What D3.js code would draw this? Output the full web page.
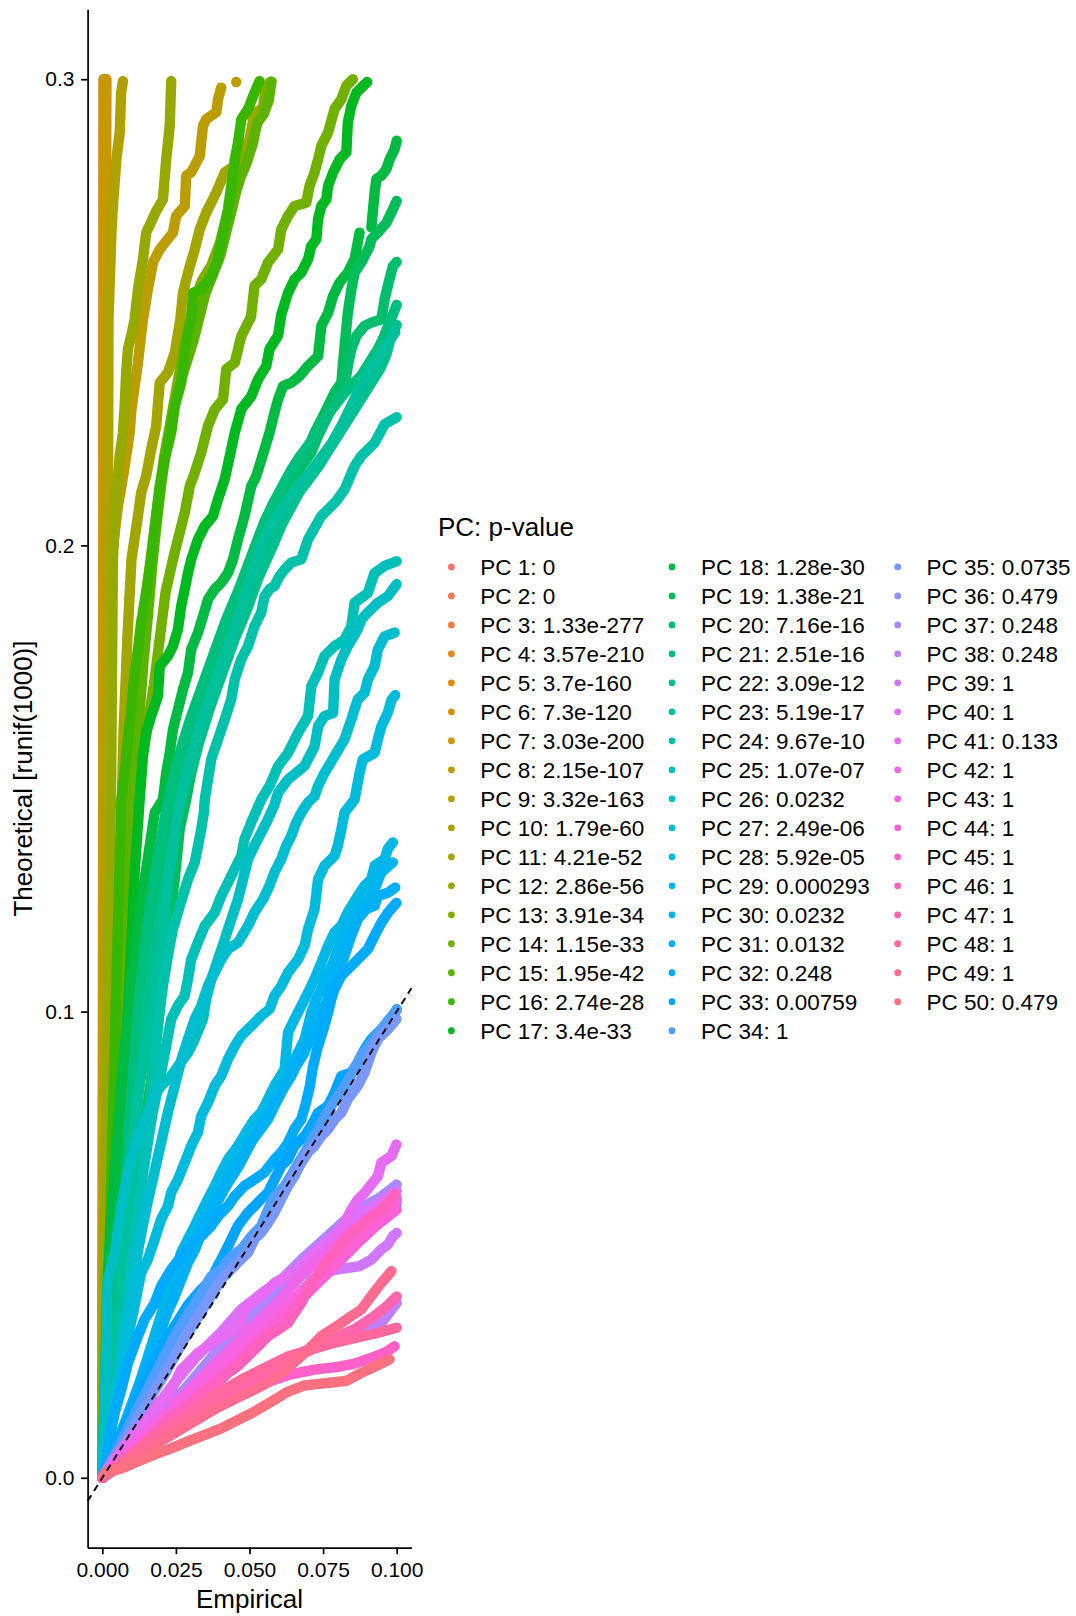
<!DOCTYPE html>
<html>
<head>
<meta charset="utf-8">
<script src="https://cdn.jsdelivr.net/npm/d3@7"></script>
<style>
  body { margin: 0; background: #ffffff; }
  svg { display: block; }
  text { font-family: "Liberation Sans", Arial, Helvetica, sans-serif; fill: #000; }
</style>
</head>
<body>
<svg id="chart" width="1076" height="1616"></svg>
<script>
// JackStraw QQ curves: empirical p-value quantiles (x) against theoretical runif(1000) quantiles (y)

const pValueLabels = [
  "0", "0", "1.33e-277", "3.57e-210", "3.7e-160", "7.3e-120", "3.03e-200", "2.15e-107", "3.32e-163", "1.79e-60",
  "4.21e-52", "2.86e-56", "3.91e-34", "1.15e-33", "1.95e-42", "2.74e-28", "3.4e-33", "1.28e-30", "1.38e-21", "7.16e-16",
  "2.51e-16", "3.09e-12", "5.19e-17", "9.67e-10", "1.07e-07", "0.0232", "2.49e-06", "5.92e-05", "0.000293", "0.0232",
  "0.0132", "0.248", "0.00759", "1", "0.0735", "0.479", "0.248", "0.248", "1", "1",
  "0.133", "1", "1", "1", "1", "1", "1", "1", "1", "0.479"
];

const xTicks = [0, 0.025, 0.05, 0.075, 0.1];
const yTicks = [0, 0.1, 0.2, 0.3];

// One list of [empirical, theoretical] pairs per PC (PC 1 first); null breaks a curve at a gap.
const curves = [
  /* PC 1 */ [[0.0003, 0], [0.0005, 0.3]],
  /* PC 2 */ [[0.0003, 0], [0.0005, 0.3]],
  /* PC 3 */ [[0.0003, 0], [0.0004, 0.12], [0.0006, 0.3]],
  /* PC 4 */ [[0, 0], [0.0004, 0.08], [0.0009, 0.2], [0.0013, 0.28], [0.0014, 0.3]],
  /* PC 5 */ [[0, 0], [0.0005, 0.1], [0.0009, 0.22], [0.0011, 0.3]],
  /* PC 6 */ [[0, 0], [0.0006, 0.1], [0.001, 0.2], [0.0012, 0.3]],
  /* PC 7 */ [[0, 0], [0.0003, 0.1], [0.0006, 0.2], [0.0008, 0.3]],
  /* PC 8 */ [[0, 0], [0.0002, 0.1], [0.0004, 0.2], [0.0005, 0.3]],
  /* PC 9 */ [[0, 0], [0.0006, 0.05], [0.0015, 0.1], [0.0025, 0.15], [0.0031, 0.197], [0.0042, 0.2027], [0.0053, 0.2084],
    [0.0065, 0.2127], [0.0076, 0.217], [0.0093, 0.2242], [0.0099, 0.2292], [0.011, 0.2342], [0.0121, 0.2392], [0.0138, 0.2485],
    [0.0155, 0.255], [0.0172, 0.2607], [0.0195, 0.2635], [0.024, 0.2671], [0.0251, 0.2707], [0.028, 0.2728], [0.0285, 0.2793],
    [0.0302, 0.28], [0.0331, 0.2835], [0.0342, 0.29], [0.0353, 0.2914], [0.0387, 0.2929], [0.0393, 0.2957], [0.0404, 0.2982],
    null, [0.0455, 0.2994], [0.0455, 0.2994]],
  /* PC 10 */ [[0, 0], [0.0006, 0.05], [0.0011, 0.1], [0.0015, 0.15], [0.0019, 0.2], [0.0021, 0.2486], [0.0031, 0.2671],
    [0.0036, 0.2729], [0.0048, 0.2829], [0.0059, 0.2886], [0.0064, 0.2971], [0.007, 0.2996]],
  /* PC 11 */ [[0, 0], [0.0015, 0.03], [0.003, 0.06], [0.0045, 0.1], [0.006, 0.13], [0.0072, 0.16], [0.0085, 0.18], [0.0099, 0.197],
    [0.0121, 0.2063], [0.0132, 0.2113], [0.0149, 0.2149], [0.0166, 0.2206], [0.0183, 0.2256], [0.0195, 0.2349], [0.0223, 0.2371],
    [0.0246, 0.2413], [0.0265, 0.2485], [0.0274, 0.2542], [0.0291, 0.2585], [0.0314, 0.2635], [0.0331, 0.2678], [0.0353, 0.2714],
    [0.0387, 0.2757], [0.0416, 0.28], [0.045, 0.2814], [0.0483, 0.285], [0.05, 0.2871], [0.0517, 0.2928], [0.054, 0.2936],
    [0.0563, 0.295], [0.0568, 0.2993]],
  /* PC 12 */ [[0, 0], [0.001, 0.05], [0.002, 0.1], [0.003, 0.15], [0.0036, 0.1972], [0.0042, 0.2041], [0.0048, 0.2113],
    [0.0053, 0.2142], [0.0059, 0.2192], [0.007, 0.2242], [0.0076, 0.23], [0.0081, 0.2371], [0.0087, 0.2421], [0.0098, 0.2449],
    [0.011, 0.2485], [0.0121, 0.2549], [0.0138, 0.2614], [0.0149, 0.2671], [0.0183, 0.2717], [0.0206, 0.2742], [0.0217, 0.2828],
    [0.0229, 0.29], [0.0234, 0.2996]],
  /* PC 13 */ [[0, 0], [0.002, 0.035], [0.0035, 0.065], [0.0055, 0.1], [0.007, 0.12], [0.0085, 0.14], [0.01, 0.155], [0.012, 0.17],
    [0.014, 0.185], [0.017, 0.2], [0.019, 0.21], [0.021, 0.219], [0.023, 0.226], [0.025, 0.233], [0.027, 0.24], [0.029, 0.246],
    [0.031, 0.252], [0.034, 0.257], [0.037, 0.26], [0.04, 0.265], [0.042, 0.27], [0.044, 0.274], [0.046, 0.278], [0.048, 0.282],
    [0.051, 0.286], [0.0525, 0.2905], [0.0545, 0.2935], [0.0556, 0.2985]],
  /* PC 14 */ [[0, 0], [0.0025, 0.035], [0.0045, 0.07], [0.0065, 0.1], [0.0085, 0.12], [0.0105, 0.135], [0.0125, 0.15], [0.015, 0.16],
    [0.0175, 0.17], [0.0195, 0.18], [0.0215, 0.19], [0.024, 0.197], [0.0257, 0.2013], [0.028, 0.207], [0.0297, 0.2127],
    [0.0314, 0.2156], [0.0336, 0.2199], [0.0359, 0.2256], [0.0382, 0.2292], [0.041, 0.2313], [0.0421, 0.2378], [0.045, 0.2392],
    [0.0472, 0.2449], [0.0505, 0.249], [0.0517, 0.2557], [0.054, 0.2571], [0.0563, 0.2607], [0.0597, 0.2635], [0.0608, 0.2678],
    [0.0631, 0.2707], [0.0653, 0.2728], [0.0693, 0.2735], [0.0704, 0.2771], [0.0721, 0.28], [0.0733, 0.2828], [0.0744, 0.2857],
    [0.0767, 0.2886], [0.0789, 0.2936], [0.0812, 0.2957], [0.0829, 0.2986], [0.0851, 0.3]],
  /* PC 15 */ [[0, 0], [0.002, 0.03], [0.0035, 0.06], [0.005, 0.09], [0.0065, 0.11], [0.008, 0.125], [0.0095, 0.14], [0.011, 0.152],
    [0.0125, 0.163], [0.014, 0.175], [0.0155, 0.185], [0.017, 0.196], [0.0185, 0.205], [0.02, 0.213], [0.0215, 0.22], [0.023, 0.225],
    [0.025, 0.231], [0.027, 0.236], [0.029, 0.24], [0.031, 0.244], [0.033, 0.249], [0.035, 0.254], [0.0375, 0.258], [0.04, 0.262],
    [0.042, 0.267], [0.044, 0.272], [0.0455, 0.276], [0.047, 0.279], [0.049, 0.282], [0.051, 0.286], [0.0525, 0.2905],
    [0.0548, 0.2925], [0.0565, 0.2955], [0.0575, 0.2995]],
  /* PC 16 */ [[0, 0], [0.0025, 0.05], [0.0045, 0.1], [0.0065, 0.1455], [0.0076, 0.1512], [0.0087, 0.1584], [0.0099, 0.1655],
    [0.011, 0.1727], [0.0121, 0.1777], [0.0132, 0.1835], [0.0149, 0.19], [0.0166, 0.197], [0.0183, 0.2063], [0.0195, 0.2127],
    [0.0212, 0.2185], [0.0234, 0.2242], [0.0246, 0.2299], [0.0268, 0.2349], [0.028, 0.2421], [0.0291, 0.2457], [0.0302, 0.2485],
    [0.0308, 0.2542], [0.0336, 0.2549], [0.037, 0.2578], [0.0393, 0.2614], [0.041, 0.2671], [0.0427, 0.2721], [0.0438, 0.2771],
    [0.045, 0.2828], [0.0461, 0.2864], [0.0472, 0.2914], [0.0495, 0.2936], [0.0517, 0.2971], [0.0534, 0.2996]],
  /* PC 17 */ [[0, 0], [0.0035, 0.03], [0.006, 0.06], [0.008, 0.09], [0.0095, 0.11], [0.011, 0.13], [0.0127, 0.1455], [0.0138, 0.1548],
    [0.0149, 0.1598], [0.0166, 0.1634], [0.0189, 0.1677], [0.0195, 0.1741], [0.0223, 0.1763], [0.024, 0.1784], [0.0257, 0.182],
    [0.0268, 0.187], [0.028, 0.1906], [0.0291, 0.1941], [0.0302, 0.197], [0.0325, 0.2013], [0.0348, 0.2042], [0.0376, 0.2063],
    [0.0393, 0.2099], [0.0416, 0.2142], [0.0433, 0.2192], [0.045, 0.2242], [0.0472, 0.2292], [0.0506, 0.232], [0.0529, 0.2356],
    [0.0557, 0.2385], [0.0568, 0.2421], [0.0597, 0.245], [0.0608, 0.2495], [0.0631, 0.2542], [0.0653, 0.2571], [0.0676, 0.2585],
    [0.0699, 0.2614], [0.071, 0.2642], [0.0727, 0.2657], [0.0733, 0.27], [0.0744, 0.2728], [0.0761, 0.2742], [0.0767, 0.2771],
    [0.0784, 0.28], [0.0806, 0.2828], [0.0829, 0.2843], [0.0834, 0.2907], [0.0846, 0.2943], [0.0863, 0.2971], [0.088, 0.2982],
    [0.09, 0.2994]],
  /* PC 18 */ [[0, 0], [0.0008, 0.02], [0.0019, 0.044], [0.0031, 0.0555], [0.0048, 0.0698], [0.0065, 0.0841], [0.0087, 0.0998],
    [0.0099, 0.107], [0.0115, 0.1141], [0.0127, 0.1212], [0.0144, 0.1284], [0.0161, 0.1356], [0.0178, 0.1427], [0.0206, 0.1455],
    [0.0217, 0.1512], [0.0229, 0.1555], [0.024, 0.1605], [0.0257, 0.1648], [0.0274, 0.1691], [0.0291, 0.1727], [0.0302, 0.1777],
    [0.0325, 0.1813], [0.0342, 0.1848], [0.0359, 0.1884], [0.0382, 0.1906], [0.0404, 0.192], [0.0427, 0.1941], [0.0444, 0.197],
    [0.0461, 0.2013], [0.0483, 0.2063], [0.0506, 0.2127], [0.0523, 0.2149], [0.0551, 0.2206], [0.0568, 0.2242], [0.0585, 0.2285],
    [0.0597, 0.2313], [0.0614, 0.2342], [0.0642, 0.2349], [0.067, 0.2363], [0.0699, 0.2385], [0.0733, 0.2406], [0.0744, 0.2471],
    [0.0767, 0.2499], [0.0784, 0.2535], [0.0806, 0.2564], [0.0834, 0.2585], [0.0857, 0.2614], [0.0874, 0.2671], null,
    [0.0914, 0.2682], [0.0925, 0.2757], [0.0931, 0.2786], [0.0948, 0.2793], [0.0965, 0.2807], [0.0976, 0.2828], [0.0993, 0.285],
    [0.1, 0.2868]],
  /* PC 19 */ [[0, 0], [0.0019, 0.0118], [0.0042, 0.024], [0.0065, 0.0382], [0.0087, 0.0483], [0.011, 0.059], [0.0132, 0.0698],
    [0.0155, 0.0805], [0.0178, 0.0912], [0.0195, 0.1005], [0.0212, 0.1105], [0.0229, 0.1198], [0.0246, 0.1284], [0.0263, 0.1392],
    [0.0285, 0.1455], [0.0302, 0.1512], [0.0325, 0.1569], [0.0342, 0.1627], [0.0359, 0.1677], [0.0382, 0.1727], [0.0404, 0.1777],
    [0.0427, 0.182], [0.045, 0.1856], [0.0472, 0.1891], [0.0495, 0.192], [0.0529, 0.1941], [0.0551, 0.197], [0.0568, 0.2027],
    [0.0585, 0.207], [0.0602, 0.2099], [0.0619, 0.2127], [0.0642, 0.2156], [0.0676, 0.2185], [0.0699, 0.2206], [0.0721, 0.2242],
    [0.0744, 0.227], [0.0767, 0.2299], [0.0789, 0.2328], [0.0812, 0.2349], [0.0823, 0.2428], [0.0834, 0.2499], [0.0846, 0.2549],
    [0.0857, 0.2585], [0.088, 0.2607], [0.0908, 0.2642], [0.0914, 0.2657], [0.0936, 0.2671], [0.0965, 0.2692], [0.0982, 0.2714],
    [0.1, 0.2739]],
  /* PC 20 */ [[0, 0], [0.003, 0.015], [0.006, 0.035], [0.009, 0.06], [0.011, 0.08], [0.013, 0.1], [0.016, 0.115], [0.019, 0.128],
    [0.022, 0.138], [0.025, 0.146], [0.027, 0.15], [0.03, 0.157], [0.033, 0.163], [0.036, 0.169], [0.04, 0.175], [0.044, 0.181],
    [0.048, 0.187], [0.052, 0.193], [0.056, 0.2], [0.058, 0.2025], [0.0597, 0.2056], [0.0614, 0.2085], [0.0631, 0.212],
    [0.0653, 0.2149], [0.0687, 0.2178], [0.071, 0.2199], [0.0733, 0.2235], [0.0755, 0.2263], [0.0778, 0.2292], [0.0801, 0.232],
    [0.0823, 0.2342], [0.0834, 0.2385], [0.0846, 0.2421], [0.0863, 0.2449], [0.0891, 0.2471], [0.0914, 0.2478], [0.0948, 0.2485],
    [0.0959, 0.2528], [0.097, 0.2557], [0.0987, 0.2599], [0.1, 0.2608]],
  /* PC 21 */ [[0, 0], [0.003, 0.018], [0.006, 0.045], [0.009, 0.075], [0.012, 0.1], [0.015, 0.117], [0.018, 0.13], [0.021, 0.141],
    [0.024, 0.15], [0.027, 0.157], [0.03, 0.163], [0.034, 0.17], [0.038, 0.177], [0.042, 0.184], [0.046, 0.19], [0.049, 0.195],
    [0.052, 0.2], [0.055, 0.205], [0.058, 0.209], [0.061, 0.2125], [0.064, 0.216], [0.067, 0.219], [0.07, 0.2215], [0.073, 0.2245],
    [0.076, 0.2275], [0.079, 0.23], [0.082, 0.2325], [0.085, 0.2345], [0.088, 0.2365], [0.091, 0.2395], [0.0935, 0.242],
    [0.0955, 0.2445], [0.097, 0.247], [0.0987, 0.2495], [0.1, 0.2516]],
  /* PC 22 */ [[0, 0], [0.004, 0.02], [0.008, 0.05], [0.012, 0.08], [0.015, 0.1], [0.019, 0.118], [0.023, 0.133], [0.026, 0.143],
    [0.029, 0.15], [0.033, 0.158], [0.037, 0.166], [0.041, 0.173], [0.045, 0.18], [0.049, 0.186], [0.053, 0.193], [0.058, 0.2],
    [0.061, 0.2045], [0.064, 0.208], [0.067, 0.2115], [0.07, 0.214], [0.0735, 0.217], [0.077, 0.2205], [0.08, 0.2235],
    [0.083, 0.2265], [0.086, 0.2295], [0.089, 0.2325], [0.092, 0.2355], [0.0945, 0.238], [0.0965, 0.241], [0.098, 0.2445],
    [0.1, 0.2473]],
  /* PC 23 */ [[0, 0], [0.004, 0.022], [0.008, 0.055], [0.012, 0.082], [0.017, 0.1], [0.02, 0.115], [0.023, 0.13], [0.0255, 0.142],
    [0.028, 0.15], [0.031, 0.157], [0.035, 0.165], [0.039, 0.172], [0.043, 0.179], [0.047, 0.186], [0.0505, 0.193], [0.054, 0.2],
    [0.057, 0.204], [0.0605, 0.2075], [0.064, 0.2105], [0.0675, 0.2135], [0.071, 0.216], [0.0745, 0.219], [0.078, 0.222],
    [0.0815, 0.226], [0.085, 0.2305], [0.088, 0.2345], [0.091, 0.2375], [0.094, 0.2405], [0.097, 0.2435], [0.0995, 0.2457]],
  /* PC 24 */ [[0, 0], [0.002, 0.008], [0.005, 0.02], [0.008, 0.035], [0.011, 0.05], [0.014, 0.068], [0.017, 0.085], [0.0195, 0.1005],
    [0.0206, 0.1055], [0.0217, 0.1098], [0.0229, 0.1141], [0.024, 0.1177], [0.0257, 0.1213], [0.0274, 0.1249], [0.0291, 0.1284],
    [0.0314, 0.132], [0.0336, 0.1391], [0.0345, 0.1427], [0.0348, 0.1455], [0.0359, 0.1498], [0.037, 0.1541], [0.0393, 0.1584],
    [0.0416, 0.1627], [0.0438, 0.167], [0.045, 0.1713], [0.0472, 0.1756], [0.0495, 0.1784], [0.0517, 0.1827], [0.054, 0.1856],
    [0.0551, 0.1891], [0.0568, 0.1906], [0.0585, 0.1913], [0.0602, 0.1934], [0.0619, 0.1948], [0.0642, 0.1963], [0.0676, 0.197],
    [0.0699, 0.2013], [0.0744, 0.2063], [0.0795, 0.2095], [0.0823, 0.212], [0.0857, 0.217], [0.088, 0.2192], [0.0925, 0.222],
    [0.0959, 0.226], [0.1, 0.2275]],
  /* PC 25 */ [[0, 0], [0.002, 0.008], [0.005, 0.02], [0.008, 0.036], [0.011, 0.052], [0.014, 0.066], [0.017, 0.078], [0.02, 0.087],
    [0.0234, 0.0984], [0.0257, 0.1013], [0.028, 0.1034], [0.0291, 0.107], [0.0302, 0.1112], [0.0325, 0.1149], [0.0348, 0.1184],
    [0.0382, 0.1213], [0.0404, 0.1248], [0.0427, 0.1277], [0.045, 0.1306], [0.0472, 0.1334], [0.0483, 0.137], [0.0506, 0.1406],
    [0.054, 0.1455], [0.0568, 0.1484], [0.0597, 0.1526], [0.0631, 0.1555], [0.0665, 0.1598], [0.0699, 0.1634], [0.071, 0.1698],
    [0.0733, 0.1727], [0.0755, 0.1763], [0.0789, 0.1784], [0.0823, 0.1798], [0.0846, 0.1827], [0.0857, 0.1877], [0.0902, 0.1898],
    [0.0925, 0.1941], [0.0959, 0.1956], [0.1, 0.1966]],
  /* PC 26 */ [[0, 0], [0.001, 0.02], [0.0019, 0.0426], [0.0042, 0.0483], [0.0065, 0.0583], [0.0087, 0.0655], [0.011, 0.0712],
    [0.0132, 0.0748], [0.0161, 0.0791], [0.0178, 0.082], [0.02, 0.0841], [0.0234, 0.0862], [0.0257, 0.0883], [0.0291, 0.0912],
    [0.0314, 0.0941], [0.0342, 0.0984], [0.0353, 0.1027], [0.037, 0.1069], [0.0393, 0.1112], [0.0416, 0.1155], [0.0438, 0.1198],
    [0.0461, 0.1241], [0.0478, 0.1284], [0.0495, 0.1327], [0.0517, 0.1356], [0.054, 0.1384], [0.0563, 0.1413], [0.0585, 0.1444],
    [0.0597, 0.1469], [0.0631, 0.1498], [0.0687, 0.1527], [0.0721, 0.1569], [0.0733, 0.1612], [0.0755, 0.1634], [0.0784, 0.1641],
    [0.0789, 0.1712], [0.0812, 0.1755], [0.0834, 0.1784], [0.0868, 0.182], [0.088, 0.1841], [0.0902, 0.1856], [0.0936, 0.1877],
    [0.097, 0.1891], [0.1, 0.1917]],
  /* PC 27 */ [[0, 0], [0.0025, 0.009], [0.005, 0.02], [0.0075, 0.031], [0.01, 0.041], [0.0125, 0.05], [0.015, 0.058], [0.0175, 0.065],
    [0.02, 0.072], [0.0225, 0.079], [0.025, 0.085], [0.027, 0.09], [0.0291, 0.0941], [0.0314, 0.0984], [0.0336, 0.1012],
    [0.0359, 0.1055], [0.0382, 0.1084], [0.0404, 0.1112], [0.0427, 0.1134], [0.0461, 0.1148], [0.0495, 0.1184], [0.0517, 0.1213],
    [0.0546, 0.1241], [0.0568, 0.127], [0.0585, 0.1299], [0.0608, 0.1327], [0.0625, 0.1356], [0.0642, 0.1377], [0.0659, 0.1406],
    [0.0676, 0.1427], [0.0699, 0.1449], [0.0721, 0.1462], [0.0733, 0.1484], [0.0755, 0.1512], [0.0789, 0.1548], [0.0823, 0.1584],
    [0.0846, 0.1627], [0.0868, 0.167], [0.0891, 0.1684], [0.0902, 0.1712], [0.0925, 0.1741], [0.0936, 0.1777], [0.0959, 0.1805],
    [0.0993, 0.1813]],
  /* PC 28 */ [[0, 0], [0.002, 0.007], [0.005, 0.017], [0.008, 0.028], [0.011, 0.037], [0.0132, 0.044], [0.0155, 0.0469],
    [0.0178, 0.0512], [0.02, 0.0555], [0.0223, 0.0583], [0.0234, 0.0612], [0.0257, 0.064], [0.028, 0.0676], [0.0302, 0.0712],
    [0.0325, 0.0741], [0.0336, 0.0776], [0.0359, 0.0805], [0.0382, 0.0841], [0.0404, 0.0862], [0.0427, 0.0898], [0.045, 0.0926],
    [0.0472, 0.0948], [0.0506, 0.0969], [0.054, 0.0991], [0.0568, 0.1005], [0.0585, 0.1034], [0.0608, 0.1055], [0.0631, 0.1084],
    [0.0665, 0.1112], [0.0687, 0.1141], [0.0699, 0.1177], [0.0721, 0.122], [0.0733, 0.1284], [0.0755, 0.1313], [0.0789, 0.1334],
    [0.08, 0.1356], [0.0812, 0.1391], [0.0823, 0.1427], [0.0857, 0.1455], [0.0874, 0.1512], [0.0885, 0.1541], [0.0925, 0.1555],
    [0.0936, 0.1584], [0.0948, 0.1612], [0.097, 0.1641], [0.0982, 0.1668], [0.0995, 0.1679]],
  /* PC 29 */ [[0, 0], [0.005, 0.007], [0.009, 0.014], [0.013, 0.021], [0.017, 0.029], [0.021, 0.037], [0.0246, 0.044],
    [0.0268, 0.0483], [0.0291, 0.0512], [0.0314, 0.054], [0.0336, 0.0569], [0.0359, 0.0598], [0.0382, 0.0626], [0.0404, 0.0655],
    [0.0427, 0.0683], [0.0461, 0.0712], [0.0495, 0.0748], [0.0517, 0.0769], [0.054, 0.0784], [0.0563, 0.0812], [0.0585, 0.0841],
    [0.0619, 0.0876], [0.0631, 0.0955], [0.0653, 0.0984], [0.0676, 0.1012], [0.0699, 0.1041], [0.0721, 0.107], [0.0744, 0.1105],
    [0.0767, 0.1141], [0.0789, 0.117], [0.0812, 0.1184], [0.0834, 0.1213], [0.0868, 0.1248], [0.0891, 0.127], [0.0914, 0.1284],
    [0.0925, 0.1313], [0.0959, 0.1327], [0.097, 0.1349], [0.0987, 0.1363]],
  /* PC 30 */ [[0, 0], [0.006, 0.008], [0.011, 0.015], [0.015, 0.022], [0.019, 0.03], [0.023, 0.037], [0.0268, 0.044], [0.0291, 0.0483],
    [0.0314, 0.0512], [0.0336, 0.054], [0.0359, 0.0569], [0.0382, 0.0598], [0.0404, 0.0626], [0.0427, 0.0655], [0.0461, 0.0683],
    [0.0495, 0.0712], [0.0529, 0.074], [0.0563, 0.0769], [0.0585, 0.0798], [0.0608, 0.0826], [0.0631, 0.0855], [0.0642, 0.0883],
    [0.0665, 0.0912], [0.0687, 0.094], [0.071, 0.0998], [0.0727, 0.1027], [0.0744, 0.1048], [0.0761, 0.1077], [0.0784, 0.1105],
    [0.08, 0.1134], [0.0817, 0.1163], [0.0834, 0.1184], [0.0857, 0.1206], [0.088, 0.1227], [0.0902, 0.1241], [0.0925, 0.1263],
    [0.0948, 0.1299], [0.0987, 0.132]],
  /* PC 31 */ [[0, 0], [0.003, 0.004], [0.006, 0.009], [0.009, 0.014], [0.012, 0.019], [0.015, 0.024], [0.018, 0.029], [0.021, 0.034],
    [0.024, 0.038], [0.0265, 0.042], [0.029, 0.046], [0.0315, 0.049], [0.034, 0.053], [0.0365, 0.056], [0.039, 0.059],
    [0.0415, 0.062], [0.044, 0.0645], [0.0465, 0.067], [0.049, 0.07], [0.0515, 0.073], [0.054, 0.0755], [0.0565, 0.078],
    [0.059, 0.081], [0.0615, 0.0835], [0.064, 0.086], [0.066, 0.0885], [0.0685, 0.091], [0.0705, 0.094], [0.072, 0.0965],
    [0.0744, 0.0998], [0.0767, 0.1027], [0.0778, 0.1055], [0.08, 0.1084], [0.0823, 0.112], [0.0846, 0.1163], [0.0868, 0.1198],
    [0.0897, 0.122], [0.0925, 0.1227], [0.0936, 0.1248], [0.097, 0.1255], [0.0995, 0.1266]],
  /* PC 32 */ [[0, 0], [0.0019, 0.0068], [0.0042, 0.014], [0.0065, 0.019], [0.0087, 0.0246], [0.0121, 0.0304], [0.0144, 0.034],
    [0.0178, 0.0375], [0.02, 0.0411], [0.0234, 0.0447], [0.0268, 0.0475], [0.0302, 0.0504], [0.0336, 0.0518], [0.037, 0.054],
    [0.0393, 0.0561], [0.0427, 0.0583], [0.045, 0.0604], [0.0483, 0.0626], [0.0517, 0.064], [0.0551, 0.0655], [0.0585, 0.0683],
    [0.0608, 0.0698], [0.0631, 0.0719], [0.0653, 0.0748], [0.0676, 0.0769], [0.069, 0.08], [0.0705, 0.084], [0.0715, 0.088],
    [0.073, 0.092], [0.075, 0.096], [0.0767, 0.0998], [0.0778, 0.1027], [0.0789, 0.1048], [0.0812, 0.1077], [0.0846, 0.1098],
    [0.0868, 0.1112], [0.0902, 0.1134], [0.0925, 0.1163], [0.0948, 0.1191], [0.097, 0.1212], [0.0999, 0.1233]],
  /* PC 33 */ [[0, 0], [0.005, 0.008], [0.009, 0.013], [0.013, 0.019], [0.017, 0.024], [0.021, 0.029], [0.025, 0.033], [0.029, 0.037],
    [0.033, 0.04], [0.037, 0.0426], [0.0393, 0.0455], [0.0416, 0.0483], [0.0438, 0.0511], [0.0461, 0.0541], [0.0495, 0.0569],
    [0.0517, 0.0583], [0.054, 0.0598], [0.0563, 0.0612], [0.0585, 0.064], [0.0608, 0.0669], [0.0631, 0.0683], [0.0653, 0.0712],
    [0.0687, 0.0733], [0.071, 0.0755], [0.0733, 0.0783], [0.0767, 0.0798], [0.0789, 0.0826], [0.0812, 0.0862], [0.0846, 0.0869],
    [0.0868, 0.0891], [0.0891, 0.0919], [0.0914, 0.0941], [0.0948, 0.0962], [0.0987, 0.0991], [0.1, 0.1005]],
  /* PC 34 */ [[0, 0], [0.005, 0.006], [0.009, 0.011], [0.013, 0.016], [0.017, 0.021], [0.021, 0.026], [0.025, 0.031], [0.029, 0.035],
    [0.033, 0.039], [0.037, 0.0432], [0.0404, 0.0447], [0.0438, 0.0475], [0.0472, 0.049], [0.0506, 0.0518], [0.054, 0.054],
    [0.0563, 0.0575], [0.0585, 0.0604], [0.0619, 0.0625], [0.0653, 0.0661], [0.0687, 0.0697], [0.0733, 0.0747], [0.076, 0.078],
    [0.079, 0.081], [0.082, 0.0835], [0.085, 0.087], [0.088, 0.0905], [0.091, 0.093], [0.094, 0.0955], [0.097, 0.098], [0.1, 0.1003]],
  /* PC 35 */ [[0, 0], [0.005, 0.005], [0.009, 0.009], [0.013, 0.0135], [0.017, 0.018], [0.021, 0.022], [0.025, 0.0265], [0.029, 0.031],
    [0.033, 0.035], [0.037, 0.039], [0.0404, 0.0426], [0.0427, 0.044], [0.0461, 0.0462], [0.0495, 0.0483], [0.0517, 0.0512],
    [0.054, 0.0526], [0.0563, 0.0547], [0.0585, 0.0569], [0.0608, 0.0598], [0.0631, 0.0626], [0.0653, 0.0648], [0.0676, 0.0676],
    [0.0699, 0.0698], [0.0721, 0.0712], [0.0744, 0.0733], [0.0767, 0.0748], [0.0789, 0.0769], [0.0812, 0.0783], [0.0834, 0.0812],
    [0.0868, 0.0841], [0.0891, 0.0869], [0.0914, 0.0912], [0.0936, 0.0941], [0.097, 0.0962], [0.0999, 0.0984]],
  /* PC 36 */ [[0, 0], [0.008, 0.005], [0.016, 0.01], [0.024, 0.0155], [0.032, 0.021], [0.04, 0.0265], [0.048, 0.032], [0.056, 0.037],
    [0.064, 0.042], [0.072, 0.047], [0.08, 0.0505], [0.086, 0.053], [0.092, 0.0555], [0.097, 0.0575], [0.1, 0.0586]],
  /* PC 37 */ [[0, 0], [0.005, 0.004], [0.012, 0.009], [0.02, 0.014], [0.028, 0.019], [0.036, 0.025], [0.044, 0.031], [0.052, 0.036],
    [0.06, 0.042], [0.068, 0.047], [0.075, 0.051], [0.082, 0.055], [0.088, 0.058], [0.094, 0.06], [0.1, 0.0629]],
  /* PC 38 */ [[0, 0], [0.01, 0.004], [0.02, 0.008], [0.03, 0.012], [0.04, 0.016], [0.05, 0.02], [0.06, 0.024], [0.068, 0.027],
    [0.076, 0.029], [0.082, 0.0305], null, [0.088, 0.0314], [0.092, 0.0325], [0.0948, 0.0332], [0.097, 0.035], [0.1, 0.0375]],
  /* PC 39 */ [[0, 0], [0.006, 0.004], [0.014, 0.009], [0.022, 0.014], [0.03, 0.0185], [0.038, 0.023], [0.046, 0.0275], [0.054, 0.032],
    [0.062, 0.0365], [0.07, 0.041], [0.078, 0.0445], [0.0874, 0.0454], [0.0914, 0.0468], [0.0948, 0.049], [0.097, 0.05],
    [0.0987, 0.0518], [0.1, 0.0525]],
  /* PC 40 */ [[0, 0], [0.004, 0.004], [0.01, 0.009], [0.017, 0.014], [0.024, 0.02], [0.032, 0.026], [0.04, 0.031], [0.047, 0.036],
    [0.055, 0.04], [0.062, 0.043], [0.068, 0.046], [0.075, 0.05], [0.082, 0.054], [0.088, 0.057], [0.094, 0.059], [0.1, 0.0615]],
  /* PC 41 */ [[0.0002, 0.0003], [0.0031, 0.0025], [0.0065, 0.0046], [0.0099, 0.0075], [0.0132, 0.0103], [0.0166, 0.0125],
    [0.0189, 0.0161], [0.0223, 0.0175], [0.0246, 0.0203], [0.0268, 0.0232], [0.0291, 0.0246], [0.0325, 0.0268], [0.0359, 0.0282],
    [0.0393, 0.0297], [0.0427, 0.0311], [0.045, 0.0318], [0.0472, 0.0332], [0.0483, 0.0361], [0.0506, 0.0375], [0.054, 0.039],
    [0.0563, 0.0404], [0.0585, 0.0418], [0.0619, 0.0429], [0.0653, 0.0432], [0.0676, 0.044], [0.0699, 0.0461], [0.0716, 0.0482],
    [0.0744, 0.049], [0.0767, 0.0497], [0.0789, 0.0511], [0.0812, 0.0532], [0.0829, 0.0554], [0.0846, 0.0575], [0.0868, 0.0597],
    [0.0891, 0.0611], [0.0908, 0.0625], [0.0936, 0.0647], [0.0948, 0.0676], [0.0982, 0.069], [0.0999, 0.0715]],
  /* PC 42 */ [[0, 0], [0.006, 0.004], [0.013, 0.009], [0.02, 0.013], [0.028, 0.018], [0.036, 0.023], [0.044, 0.028], [0.052, 0.033],
    [0.06, 0.038], [0.067, 0.043], [0.074, 0.047], [0.081, 0.051], [0.087, 0.0545], [0.093, 0.057], [0.1, 0.06]],
  /* PC 43 */ [[0, 0], [0.007, 0.0045], [0.015, 0.0095], [0.023, 0.014], [0.031, 0.019], [0.039, 0.0235], [0.047, 0.028],
    [0.055, 0.0325], [0.063, 0.037], [0.07, 0.0415], [0.077, 0.046], [0.084, 0.0505], [0.09, 0.054], [0.095, 0.057], [0.1, 0.0595]],
  /* PC 44 */ [[0, 0], [0.008, 0.004], [0.016, 0.008], [0.024, 0.0125], [0.032, 0.017], [0.04, 0.0215], [0.048, 0.026], [0.056, 0.031],
    [0.064, 0.036], [0.072, 0.041], [0.08, 0.046], [0.087, 0.0505], [0.093, 0.054], [0.1, 0.0575]],
  /* PC 45 */ [[0, 0], [0.008, 0.0035], [0.016, 0.0068], [0.024, 0.01], [0.032, 0.013], [0.04, 0.0158], [0.048, 0.0183],
    [0.056, 0.0205], [0.064, 0.0222], [0.072, 0.0232], [0.08, 0.0238], [0.0857, 0.0245], [0.0925, 0.026], [0.0965, 0.027],
    [0.0993, 0.0282]],
  /* PC 46 */ [[0, 0.0003], [0.0019, 0.0011], [0.0053, 0.0025], [0.0087, 0.004], [0.0121, 0.0061], [0.0155, 0.0082], [0.0189, 0.0103],
    [0.0223, 0.0125], [0.0257, 0.014], [0.0291, 0.0154], [0.0325, 0.0175], [0.0359, 0.019], [0.0393, 0.0204], [0.0427, 0.0225],
    [0.0461, 0.024], [0.0495, 0.0261], [0.0529, 0.0282], [0.0563, 0.0304], [0.0597, 0.0318], [0.0631, 0.0332], [0.0653, 0.0354],
    [0.0676, 0.0375], [0.0699, 0.0404], [0.0721, 0.0425], [0.0744, 0.0447], [0.0767, 0.0468], [0.0789, 0.0482], [0.0812, 0.0504],
    [0.0834, 0.0518], [0.0857, 0.0532], [0.088, 0.054], [0.0902, 0.0554], [0.0936, 0.0568], [0.097, 0.059], [0.0993, 0.0608]],
  /* PC 47 */ [[0, 0], [0.007, 0.003], [0.015, 0.0065], [0.023, 0.01], [0.031, 0.013], [0.039, 0.016], [0.047, 0.019], [0.055, 0.022],
    [0.063, 0.025], [0.071, 0.0275], [0.079, 0.03], [0.086, 0.032], [0.092, 0.0345], [0.097, 0.037], [0.1, 0.0389]],
  /* PC 48 */ [[0, 0], [0.007, 0.0035], [0.015, 0.0075], [0.023, 0.011], [0.031, 0.0145], [0.039, 0.018], [0.047, 0.021],
    [0.055, 0.0235], [0.063, 0.026], [0.071, 0.0275], [0.079, 0.029], [0.086, 0.03], [0.093, 0.031], [0.1, 0.0322]],
  /* PC 49 */ [[0, 0], [0.007, 0.003], [0.015, 0.006], [0.023, 0.009], [0.031, 0.012], [0.039, 0.015], [0.047, 0.0175], [0.055, 0.02],
    [0.061, 0.0225], [0.0676, 0.0261], [0.071, 0.0282], [0.0744, 0.0304], [0.0778, 0.0318], [0.0812, 0.0332], [0.0846, 0.0347],
    [0.088, 0.0361], [0.0914, 0.039], [0.0948, 0.0418], [0.0982, 0.0443]],
  /* PC 50 */ [[0.0008, 0.001], [0.0065, 0.002], [0.0121, 0.0035], [0.0178, 0.005], [0.0234, 0.0063], [0.0291, 0.0078],
    [0.0348, 0.0092], [0.0404, 0.0106], [0.0461, 0.0124], [0.0517, 0.0142], [0.0574, 0.0163], [0.0631, 0.0185], [0.0687, 0.0198],
    [0.0744, 0.0202], [0.0789, 0.0205], [0.0829, 0.0208], [0.088, 0.0225], [0.0925, 0.0238], [0.0976, 0.0254]]
];

// ggplot2-style discrete hue palette: polar CIE-LUV (grDevices::hcl) converted to sRGB
function hueColor(h, c, l) {
  const WY = 100, Wu = 0.1978398, Wv = 0.4683363;
  const hr = h * Math.PI / 180;
  const U = c * Math.cos(hr), V = c * Math.sin(hr);
  const Y = WY * (l > 7.999592 ? Math.pow((l + 16) / 116, 3) : l / 903.3);
  const u = U / (13 * l) + Wu, v = V / (13 * l) + Wv;
  const X = 9 * Y * u / (4 * v);
  const Z = -X / 3 - 5 * Y + 3 * Y / v;
  const gt = t => t > 0.00304 ? 1.055 * Math.pow(t, 1 / 2.4) - 0.055 : 12.92 * t;
  const ch = t => Math.round(255 * Math.max(0, Math.min(1, gt(t))));
  const r = ch(( 3.240479 * X - 1.537150 * Y - 0.498535 * Z) / WY);
  const g = ch((-0.969256 * X + 1.875992 * Y + 0.041556 * Z) / WY);
  const b = ch(( 0.055648 * X - 0.204043 * Y + 1.057311 * Z) / WY);
  return d3.rgb(r, g, b).formatHex();
}
const nPC = pValueLabels.length;
const pcColors = pValueLabels.map((_, i) => hueColor(15 + 360 * i / nPC, 100, 65));
const pcNames = pValueLabels.map((p, i) => `PC ${i + 1}: ${p}`);

const svg = d3.select("#chart");

const x = d3.scaleLinear().domain([-0.005, 0.105]).range([87.6, 411.4]);
const y = d3.scaleLinear().domain([-0.015, 0.315]).range([1547.7, 9.3]);

// QQ curves, drawn as dense runs of round points
const line = d3.line()
  .defined(d => d !== null)
  .x(d => x(d[0]))
  .y(d => y(d[1]));

svg.append("g")
  .selectAll("path")
  .data(curves)
  .join("path")
  .attr("d", line)
  .attr("fill", "none")
  .attr("stroke", (d, i) => pcColors[i])
  .attr("stroke-width", 10.4)
  .attr("stroke-linecap", "round")
  .attr("stroke-linejoin", "round");

// reference line y = x
const [d0, d1] = [-0.005, 0.105];
svg.append("path")
  .datum([[d0, d0], [d1, d1]])
  .attr("d", d3.line().x(d => x(d[0])).y(d => y(d[1])))
  .attr("fill", "none")
  .attr("stroke", "#000")
  .attr("stroke-width", 1.9)
  .attr("stroke-dasharray", "7,5");

// axes
const xAxis = svg.append("g")
  .attr("transform", `translate(0,${y.range()[0]})`)
  .call(d3.axisBottom(x).tickValues(xTicks).tickFormat(d3.format(".3f"))
    .tickSize(6.5).tickSizeOuter(0).tickPadding(7.6));
const yAxis = svg.append("g")
  .attr("transform", `translate(${x.range()[0]},0)`)
  .call(d3.axisLeft(y).tickValues(yTicks).tickFormat(d3.format(".1f"))
    .tickSize(6.5).tickSizeOuter(0).tickPadding(6.6));
[xAxis, yAxis].forEach(g => {
  g.select(".domain").attr("stroke", "#000").attr("stroke-width", 1.7);
  g.selectAll(".tick line").attr("stroke", "#000").attr("stroke-width", 1.7);
  g.selectAll(".tick text").attr("fill", "#000").style("font-size", "21px")
    .style("font-family", '"Liberation Sans", Arial, sans-serif');
});

svg.append("text")
  .attr("x", (x.range()[0] + x.range()[1]) / 2)
  .attr("y", 1608)
  .attr("text-anchor", "middle")
  .style("font-size", "26px")
  .text("Empirical");

svg.append("text")
  .attr("transform", `translate(31.5,${(y.range()[0] + y.range()[1]) / 2}) rotate(-90)`)
  .attr("text-anchor", "middle")
  .style("font-size", "26px")
  .text("Theoretical [runif(1000)]");

// legend
const legend = svg.append("g");
legend.append("text")
  .attr("x", 438)
  .attr("y", 535.8)
  .style("font-size", "26px")
  .text("PC: p-value");

const colDotX = [451.4, 672, 897.7];
const colTextX = [480.3, 700.9, 926.6];
const rowsPerCol = 17, row0 = 566.9, rowStep = 28.99;

const items = legend.selectAll("g.item")
  .data(pcNames)
  .join("g")
  .attr("class", "item");
items.append("circle")
  .attr("cx", (d, i) => colDotX[Math.floor(i / rowsPerCol)])
  .attr("cy", (d, i) => row0 + (i % rowsPerCol) * rowStep)
  .attr("r", 3.4)
  .attr("fill", (d, i) => pcColors[i]);
items.append("text")
  .attr("x", (d, i) => colTextX[Math.floor(i / rowsPerCol)])
  .attr("y", (d, i) => row0 + (i % rowsPerCol) * rowStep)
  .attr("dy", "0.36em")
  .style("font-size", "22.5px")
  .text(d => d);
</script>
</body>
</html>
